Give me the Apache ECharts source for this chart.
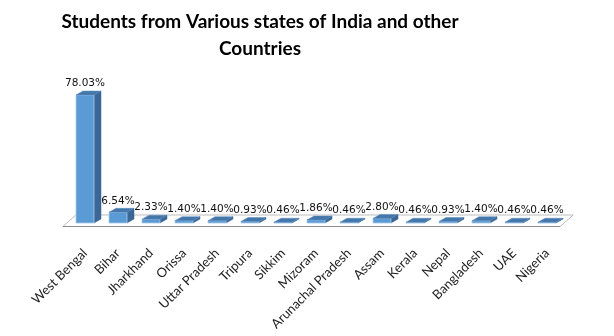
<!DOCTYPE html>
<html>
<head>
<meta charset="utf-8">
<script src="https://cdn.jsdelivr.net/npm/echarts@6/dist/echarts.min.js"></script>
<style>
  html, body { margin: 0; padding: 0; background: #fff; }
  #chart { width: 614px; height: 336px; }
</style>
</head>
<body>
<div id="chart"></div>
<script>
// Share of students by state / country of origin (percent)
const categories = ['West Bengal', 'Bihar', 'Jharkhand', 'Orissa', 'Uttar Pradesh', 'Tripura', 'Sikkim',
  'Mizoram', 'Arunachal Pradesh', 'Assam', 'Kerala', 'Nepal', 'Bangladesh', 'UAE', 'Nigeria'];
const shares = [78.03, 6.54, 2.33, 1.40, 1.40, 0.93, 0.46, 1.86, 0.46, 2.80, 0.46, 0.93, 1.40, 0.46, 0.46];
const titleLines = ['Students from Various states of India and other', 'Countries'];

// pseudo-3D geometry
const BAR_W = 18, DEPTH_X = 7, DEPTH_Y = -4;
const FLOOR_DX = 13, FLOOR_DY = -11.5;

const chart = echarts.init(document.getElementById('chart'));

function renderFloor(params, api) {
  const first = api.coord([0, 0]);
  const last = api.coord([categories.length - 1, 0]);
  const band = api.size([1, 0])[0];
  const fy = first[1] + 3.5;
  const fl = first[0] - band * 0.67;
  const fr = last[0] + band * 0.4;
  return {
    type: 'group',
    children: [
      { type: 'polygon', shape: { points: [[fl, fy], [fr, fy], [fr + FLOOR_DX, fy + FLOOR_DY], [fl + FLOOR_DX, fy + FLOOR_DY]] },
        style: { fill: '#ffffff', stroke: '#bdbdbd', lineWidth: 1 } },
      { type: 'line', shape: { x1: fl, y1: fy, x2: fr, y2: fy }, style: { stroke: '#8c8c8c', lineWidth: 1.2 } }
    ]
  };
}

function renderBar(params, api) {
  const idx = api.value(0), v = api.value(1);
  const base = api.coord([idx, 0]);
  const top = api.coord([idx, v]);
  const x0 = base[0] - BAR_W / 2, x1 = x0 + BAR_W;
  const by = base[1], ty = top[1];
  return {
    type: 'group',
    children: [
      { type: 'polygon', shape: { points: [[x1, ty], [x1 + DEPTH_X, ty + DEPTH_Y], [x1 + DEPTH_X, by + DEPTH_Y], [x1, by]] },
        style: { fill: '#3a6796', stroke: '#35618d', lineWidth: 0.5 } },
      { type: 'rect', shape: { x: x0, y: ty, width: BAR_W, height: Math.max(by - ty, 0.8) },
        style: { fill: '#5b9bd5', stroke: '#a9cbee', lineWidth: 0.8 } },
      { type: 'polygon', shape: { points: [[x0, ty], [x1, ty], [x1 + DEPTH_X, ty + DEPTH_Y], [x0 + DEPTH_X, ty + DEPTH_Y]] },
        style: { fill: '#4477aa', stroke: '#5a8cc0', lineWidth: 0.5 } },
      { type: 'text', style: { x: base[0], y: ty - 6, text: v.toFixed(2) + '%', align: 'center', verticalAlign: 'bottom',
          fontFamily: 'DejaVu Sans', fontSize: 10.5, fill: '#111' } }
    ]
  };
}

const titleStyle = { align: 'center', verticalAlign: 'middle', fontFamily: 'Lato', fontWeight: 'bold', fontSize: 19, fill: '#000' };

chart.setOption({
  animation: false,
  graphic: titleLines.map((line, i) => ({
    type: 'text', x: 260, y: 22 + i * 27,
    style: Object.assign({ text: line }, titleStyle)
  })),
  grid: { left: 68.5, right: 50.5, top: 59, bottom: 113 },
  xAxis: {
    type: 'category', data: categories,
    axisLine: { show: false }, axisTick: { show: false },
    axisLabel: { interval: 0, rotate: 45, margin: 28, fontFamily: 'Lato', fontSize: 13, color: '#222' }
  },
  yAxis: { type: 'value', min: 0, max: 100, show: false },
  series: [
    { type: 'custom', renderItem: renderFloor, data: [[0, 0]], silent: true, z: 1 },
    { type: 'custom', renderItem: renderBar, data: shares.map((v, i) => [i, v]), z: 2 }
  ]
});
</script>
</body>
</html>
